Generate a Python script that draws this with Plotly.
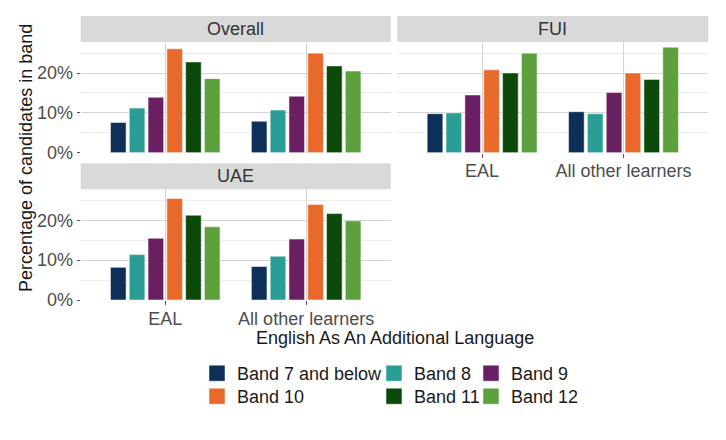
import plotly.graph_objects as go

# the page puts the figure 8px in from the window edge
OX, OY = 8, 8
W, H = 726 - 2 * OX, 440 - 2 * OY

# data (percent of candidates)
bands = ["Band 7 and below", "Band 8", "Band 9", "Band 10", "Band 11", "Band 12"]
groups = ["EAL", "All other learners"]
colors = ["#0d2f58", "#2a9d94", "#6b1f63", "#e8692a", "#0b4a0b", "#5da13c"]

overall_eal = [7.6, 11.2, 13.9, 26.1, 22.8, 18.6]
overall_other = [7.9, 10.7, 14.2, 25.0, 21.8, 20.5]
fui_eal = [9.8, 10.0, 14.5, 20.8, 20.0, 25.0]
fui_other = [10.3, 9.8, 15.1, 20.0, 18.4, 26.5]
uae_eal = [8.2, 11.4, 15.5, 25.5, 21.3, 18.4]
uae_other = [8.4, 11.0, 15.3, 24.0, 21.7, 19.9]

y_ticks = [0, 10, 20]
y_labels = ["0%", "10%", "20%"]

FONT = "Liberation Sans, Arial, Helvetica, sans-serif"


# window pixels -> paper fractions
def fx(px):
    return (px - OX) / W


def fy(py):
    return 1 - (py - OY) / H


facets = [
    # name, eal values, other values, axis id, x px, strip top, panel top, panel bottom
    ("Overall", overall_eal, overall_other, "", (80.7, 390.7), 16, 42, 152.7),
    ("FUI", fui_eal, fui_other, "2", (397.3, 708.3), 16, 42, 152.7),
    ("UAE", uae_eal, uae_other, "3", (80.7, 390.7), 163.3, 189.3, 300),
]

fig = go.Figure()
shapes = []
annotations = []

for fi, (name, eal, other, ax, (xl, xr), st, pt, pb) in enumerate(facets):
    for bi, band in enumerate(bands):
        fig.add_trace(go.Bar(
            x=groups,
            y=[eal[bi], other[bi]],
            name=band,
            marker=dict(color=colors[bi], line=dict(color="white", width=0.5)),
            xaxis="x" + ax,
            yaxis="y" + ax,
            showlegend=False,
            offsetgroup=str(bi),
            hovertemplate="%{x}<br>" + band + ": %{y:.1f}%<extra>" + name + "</extra>",
        ))

    show_x = name != "Overall"
    show_y = name != "FUI"
    fig.layout["xaxis" + ax] = dict(
        domain=[fx(xl), fx(xr)], anchor="y" + ax, type="category", automargin=False,
        range=[-0.6, 1.6], showgrid=True, gridcolor="#d4d4d4", gridwidth=1,
        showticklabels=show_x, ticks="outside" if show_x else "", ticklen=4,
        ticklabelstandoff=-2,
        tickcolor="#555555", zeroline=False, showline=False,
        tickfont=dict(family=FONT, size=18, color="#4d4d4d"),
    )
    fig.layout["yaxis" + ax] = dict(
        domain=[fy(pb), fy(pt)], anchor="x" + ax, range=[0, 27.8], automargin=False,
        tickmode="array", tickvals=y_ticks, ticktext=y_labels, showticklabels=show_y,
        ticks="outside" if show_y else "", ticklen=3, tickcolor="#555555",
        showgrid=True, gridcolor="#d4d4d4", gridwidth=1, zeroline=False,
        minor=dict(dtick=5, tick0=5, showgrid=True, gridcolor="#ececec", gridwidth=1),
        tickfont=dict(family=FONT, size=18, color="#4d4d4d"),
    )

    # facet strip
    shapes.append(dict(
        type="rect", xref="paper", yref="paper",
        x0=fx(xl), x1=fx(xr), y0=fy(pt), y1=fy(st),
        fillcolor="#d9d9d9", line=dict(width=0), layer="below",
    ))
    annotations.append(dict(
        text=name, xref="paper", yref="paper",
        x=fx((xl + xr) / 2), y=fy((st + pt) / 2),
        xanchor="center", yanchor="middle", showarrow=False,
        font=dict(family=FONT, size=18, color="#333333"),
    ))

annotations.append(dict(
    text="Percentage of candidates in band", xref="paper", yref="paper",
    x=fx(26), y=fy(158), textangle=-90, showarrow=False,
    xanchor="center", yanchor="middle",
    font=dict(family=FONT, size=18, color="#1a1a1a"),
))
annotations.append(dict(
    text="English As An Additional Language", xref="paper", yref="paper",
    x=fx(394.5), y=fy(338), showarrow=False,
    xanchor="center", yanchor="middle",
    font=dict(family=FONT, size=18, color="#1a1a1a"),
))

# legend keys: one small legend per cell so the 3 x 2 guide keeps its uneven columns
leg_x = [197, 374, 471]
leg_y = [373.5, 396.5]
legends = {}
for bi, band in enumerate(bands):
    key = "legend" if bi == 0 else "legend%d" % (bi + 1)
    fig.add_trace(go.Scatter(
        x=[None], y=[None], mode="markers", name=band,
        marker=dict(symbol="square", size=16, color=colors[bi],
                    line=dict(color="white", width=0.5)),
        legend=key, showlegend=True, hoverinfo="skip",
    ))
    legends[key] = dict(
        x=fx(leg_x[bi % 3]), y=fy(leg_y[bi // 3]),
        xanchor="left", yanchor="middle", orientation="v",
        bgcolor="rgba(0,0,0,0)", borderwidth=0,
        font=dict(family=FONT, size=18, color="#1a1a1a"),
    )

fig.update_layout(
    width=W, height=H,
    margin=dict(l=0, r=0, t=0, b=0, autoexpand=False),
    paper_bgcolor="white", plot_bgcolor="white",
    barmode="group", bargap=0.2, bargroupgap=0.17,
    shapes=shapes, annotations=annotations,
    font=dict(family=FONT, size=18),
    **legends,
)

fig.write_html("out.html")
